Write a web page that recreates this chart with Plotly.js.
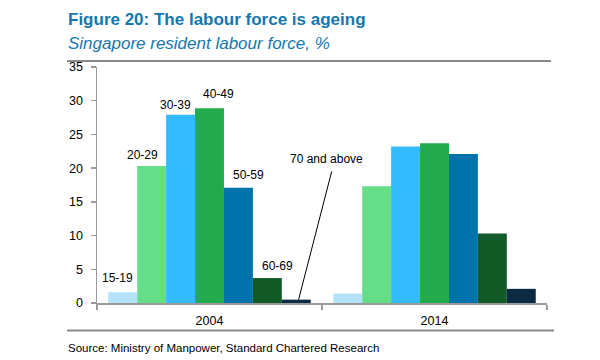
<!DOCTYPE html>
<html>
<head>
<meta charset="utf-8">
<script src="https://cdn.plot.ly/plotly-3.0.1.min.js"></script>
<style>html,body{margin:0;padding:0;background:#fff;}#chart{width:600px;height:360px;}</style>
</head>
<body>
<div id="chart"></div>
<script>
const years = ['2004', '2014'];
const ageGroups = ['15-19', '20-29', '30-39', '40-49', '50-59', '60-69', '70 and above'];
const values2004 = [1.6, 20.3, 27.9, 28.9, 17.1, 3.7, 0.5];
const values2014 = [1.4, 17.3, 23.2, 23.7, 22.1, 10.3, 2.1];
const yTicks = [0, 5, 10, 15, 20, 25, 30, 35];

const colors = ['#b3e3fb', '#66dd88', '#33bbff', '#22aa4c', '#0073aa', '#145a28', '#0b2b44'];
// label positions (layout only): [x in category units, y in axis units]
const labelPos = [[-0.411, 3.75], [-0.296, 21.9], [-0.153, 29.3], [0.042, 31.05], [0.174, 19.0], [0.30, 5.5], [0.522, 21.4]];

const FONT = 'Liberation Sans, Arial, sans-serif';
const titleColor = '#1577ad';

const traces = ageGroups.map((g, i) => ({
  type: 'bar',
  name: g,
  x: years,
  y: [values2004[i], values2014[i]],
  marker: {color: colors[i], line: {width: 0}},
  hoverinfo: 'y+name'
}));

const annotations = ageGroups.map((g, i) => ({
  x: labelPos[i][0], y: labelPos[i][1], xref: 'x', yref: 'y',
  text: g, showarrow: false,
  font: {family: FONT, size: 12, color: '#000'},
  xanchor: 'center', yanchor: 'middle'
}));

annotations.push({
  xref: 'paper', yref: 'paper', x: (66 - 97) / 450, y: (303 - 43) / 236,
  xanchor: 'left', yanchor: 'middle', showarrow: false,
  text: '<i>Singapore resident labour force, %</i>',
  font: {family: FONT, size: 17, color: titleColor}
});
annotations.push({
  xref: 'paper', yref: 'paper', x: (66 - 97) / 450, y: (303 - 19) / 236,
  xanchor: 'left', yanchor: 'middle', showarrow: false,
  text: '<b>Figure 20: The labour force is ageing</b>',
  font: {family: FONT, size: 17, color: titleColor}
});
annotations.push({
  xref: 'paper', yref: 'paper', x: (66 - 97) / 450, y: (303 - 348) / 236,
  xanchor: 'left', yanchor: 'middle', showarrow: false,
  text: 'Source: Ministry of Manpower, Standard Chartered Research',
  font: {family: FONT, size: 11.5, color: '#000'}
});

const shapes = [
  {type: 'line', xref: 'paper', yref: 'paper', x0: (67 - 97) / 450, x1: (551 - 97) / 450,
   y0: (303 - 61) / 236, y1: (303 - 61) / 236, line: {color: '#8a8a8a', width: 2}},
  {type: 'line', xref: 'paper', yref: 'paper', x0: (67 - 97) / 450, x1: (554 - 97) / 450,
   y0: (303 - 330.5) / 236, y1: (303 - 330.5) / 236, line: {color: '#8a8a8a', width: 2}},
  {type: 'line', xref: 'x', yref: 'y', x0: 0.543, y0: 19.5, x1: 0.396, y1: 0.5,
   line: {color: '#000', width: 1}}
];

const layout = {
  width: 600, height: 360,
  margin: {l: 97, r: 53, t: 67, b: 57, pad: 0},
  paper_bgcolor: '#fff', plot_bgcolor: '#fff',
  showlegend: false,
  barmode: 'group', bargap: 0.1, bargroupgap: 0,
  font: {family: FONT, size: 12, color: '#000'},
  xaxis: {
    type: 'category', range: [-0.5, 1.5],
    showline: true, linecolor: '#9a9a9a', linewidth: 1.5,
    ticks: 'outside', tickson: 'boundaries', ticklen: 5, tickcolor: '#9a9a9a', tickwidth: 1.5,
    showgrid: false, zeroline: false, ticklabelstandoff: 5,
    tickfont: {family: FONT, size: 12.5, color: '#000'}
  },
  yaxis: {
    range: [0, 35], tickvals: yTicks, ticktext: yTicks.map(String),
    showline: true, linecolor: '#9a9a9a', linewidth: 1.5,
    ticks: 'outside', ticklen: 5, tickcolor: '#9a9a9a', tickwidth: 1.5,
    showgrid: false, zeroline: false, ticklabelstandoff: 5,
    tickfont: {family: FONT, size: 12.5, color: '#000'}
  },
  annotations: annotations,
  shapes: shapes
};

Plotly.newPlot('chart', traces, layout, {displayModeBar: false, staticPlot: true});
</script>
</body>
</html>
